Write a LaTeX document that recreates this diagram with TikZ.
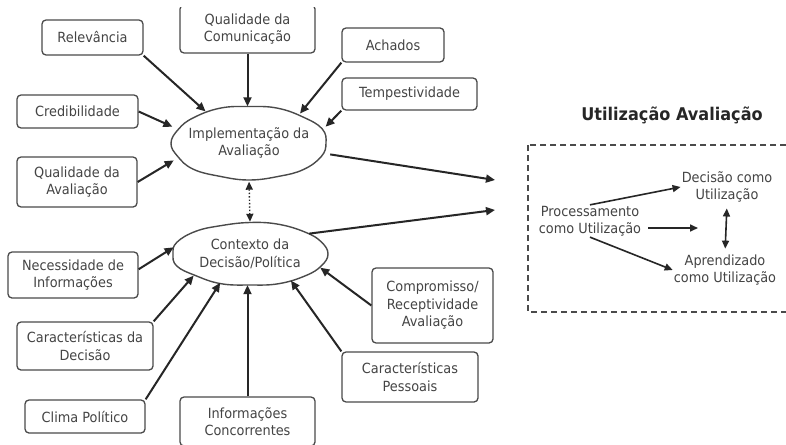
\documentclass[tikz,border=0pt]{standalone}
\usepackage{fontspec}
\setmainfont[FakeStretch=0.92]{DejaVu Sans}
\usetikzlibrary{shapes.geometric,arrows.meta,calc}
\definecolor{boxc}{HTML}{4A4A4A}
\definecolor{txtc}{HTML}{444444}
\definecolor{arrc}{HTML}{262626}
\tikzset{
  box/.style={draw=boxc, line width=1.3pt, rounded corners=4pt, align=center, inner sep=0pt,
    text=txtc, font=\fontsize{14}{17.5}\selectfont},
  blob/.style={ellipse, draw=none, align=center, inner sep=0pt,
    text=txtc, font=\fontsize{14}{17.5}\selectfont},
  cloudline/.style={draw=boxc, line width=1.4pt},
  lbl/.style={align=center, inner sep=1pt, text=txtc, font=\fontsize{14}{17}\selectfont},
  arr/.style={draw=arrc, line width=2pt, -{Triangle[length=9pt,width=8pt]}},
  sarr/.style={draw=arrc, line width=1.6pt, -{Triangle[length=8pt,width=7pt]}},
}
\begin{document}
\begin{tikzpicture}[x=1pt,y=-1pt]
\useasboundingbox (0,0) rectangle (786,444);
\clip (0,0) rectangle (786,444);
\fill[white] (0,0) rectangle (786,444);

% top box, cut at the top
\begin{scope}
\clip (0,8) rectangle (786,444);
\node[box, minimum width=135pt, minimum height=48pt] (qc) at (247.5,29) {Qualidade da\\Comunicação};
\end{scope}

\node[box, minimum width=101pt, minimum height=35pt] (rel) at (92.5,37.5) {Relevância};
\node[box, minimum width=102pt, minimum height=34pt] (ach) at (393,45) {Achados};
\node[box, minimum width=135pt, minimum height=32pt] (temp) at (409.5,94) {Tempestividade};
\node[box, minimum width=121pt, minimum height=33pt] (cred) at (77.5,111.5) {Credibilidade};
\node[box, minimum width=120pt, minimum height=50pt] (qa) at (77,182) {Qualidade da\\Avaliação};
\node[box, minimum width=130pt, minimum height=46pt] (nec) at (73,275) {Necessidade de\\Informações};
\node[box, minimum width=136pt, minimum height=48pt] (cd) at (85,346) {Características da\\Decisão};
\node[box, minimum width=120pt, minimum height=33pt] (cp) at (85,416.5) {Clima Político};
\node[box, minimum width=135pt, minimum height=49pt] (inf) at (247.5,421.5) {Informações\\Concorrentes};
\node[box, minimum width=121pt, minimum height=75pt] (comp) at (432.5,305.5) {Compromisso/\\Receptividade\\Avaliação};
\node[box, minimum width=136pt, minimum height=50pt] (cpe) at (410,377) {Características\\Pessoais};

\node[blob, minimum width=155pt, minimum height=73pt] (impl) at (249,143) {Implementação da\\Avaliação};
\node[blob, minimum width=156pt, minimum height=62pt] (ctx) at (250,254) {Contexto da\\Decisão/Política};

% hand-drawn cloud outlines
\begin{scope}[shift={(impl.center)}]
\draw[cloudline] plot[smooth cycle, tension=0.7] coordinates {
 (0:77pt and 36.5pt) (22:79pt and 37.5pt) (45:78pt and 36pt) (68:77pt and 37.5pt)
 (90:76pt and 36.5pt) (112:78pt and 37.5pt) (135:79pt and 35.5pt) (158:76pt and 37pt)
 (180:78pt and 36.5pt) (202:77pt and 35.5pt) (225:79pt and 37pt) (248:77pt and 36pt)
 (270:77pt and 37pt) (292:79pt and 36pt) (315:77pt and 37.5pt) (338:78pt and 36pt)};
\end{scope}
\begin{scope}[shift={(ctx.center)}]
\draw[cloudline] plot[smooth cycle, tension=0.7] coordinates {
 (0:78pt and 31pt) (22:77pt and 32pt) (45:79pt and 30.5pt) (68:77pt and 32pt)
 (90:78pt and 31.5pt) (112:79pt and 30.5pt) (135:77pt and 32pt) (158:79pt and 31pt)
 (180:77pt and 31pt) (202:79pt and 32pt) (225:77pt and 30.5pt) (248:78pt and 32pt)
 (270:79pt and 31pt) (292:77pt and 32pt) (315:79pt and 30.5pt) (338:77pt and 31.5pt)};
\end{scope}

% arrows into Implementação
\draw[arr] (qc.south) -- (qc.south |- impl.north);
\draw[arr] (rel.south east) -- (impl.144);
\draw[arr] (cred.east) -- (impl.168);
\draw[arr] (qa.east) -- (impl.193);
\draw[arr] (ach.south west) -- (impl.30);
\draw[arr] (temp.south west) -- (impl.12);

% arrows into Contexto
\draw[arr] (nec.5) -- (ctx.175);
\draw[arr] (cd.north east) -- (ctx.201);
\draw[arr] (cp.north east) -- (ctx.224);
\draw[arr] (inf.north) -- (inf.north |- ctx.south);
\draw[arr] (cpe.north west) -- (ctx.-33);
\draw[arr] (comp.west) -- (ctx.-11);

% dotted link
\draw[draw=arrc, line width=1.4pt, dotted, {Triangle[length=8pt,width=7pt]}-{Triangle[length=8pt,width=7pt]}, shorten <=2pt, shorten >=1pt] (impl.south) -- (ctx.north);

% outputs
\coordinate (o1) at (495,180);
\coordinate (o2) at (495,210);
\draw[arr] (impl.-8) -- (o1);
\draw[arr] (ctx.19) -- (o2);

% right part
\node[text=arrc, font=\bfseries\fontsize{17.5}{20}\selectfont, inner sep=0pt] (title) at (672,115) {Utilização Avaliação};
\draw[draw=boxc, line width=1.3pt, dash pattern=on 6pt off 4pt] (528,145) rectangle (800,312);

\node[lbl] (proc) at (590,221) {Processamento\\como Utilização};
\node[lbl] (dec) at (727,187) {Decisão como\\Utilização};
\node[lbl] (apr) at (725,270) {Aprendizado\\como Utilização};
\coordinate (midc) at (698,228);
\draw[sarr] (proc.north) -- (dec.west);
\draw[sarr] ([xshift=6pt]proc.east |- midc) -- (midc);
\draw[sarr] (proc.south) -- (apr.west);
\draw[draw=arrc, line width=1.6pt, {Triangle[length=8pt,width=7pt]}-{Triangle[length=8pt,width=7pt]}, shorten <=5pt, shorten >=5pt] (dec.south) -- (apr.north);
\end{tikzpicture}
\end{document}
